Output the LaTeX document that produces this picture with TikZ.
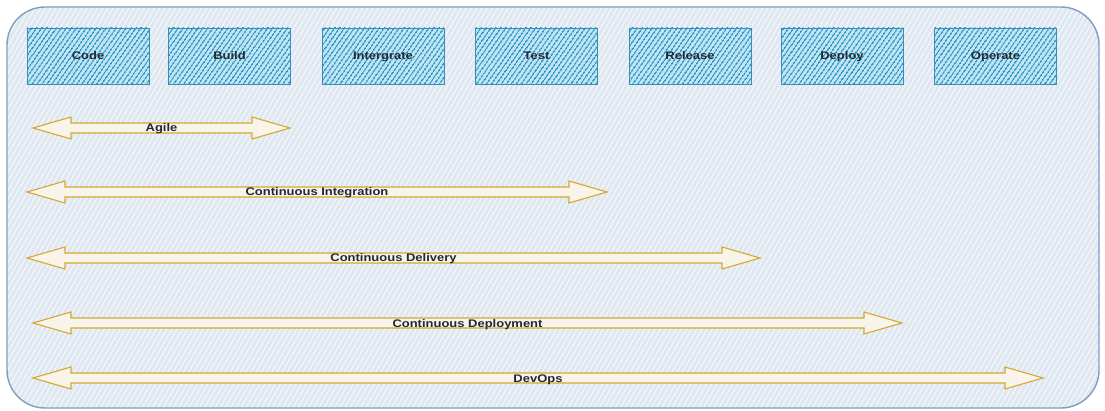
\documentclass[tikz,border=0pt]{standalone}
\usepackage{fontspec}
\setmainfont{Liberation Sans}
\usepackage{graphicx}
\usetikzlibrary{patterns.meta}

\definecolor{frame}{HTML}{7F9DC2}
\definecolor{panel}{HTML}{DFE7F0}
\definecolor{panelline}{HTML}{F7F9FC}
\definecolor{stagefill}{HTML}{BDE5F4}
\definecolor{stageline}{HTML}{2F93C4}
\definecolor{stageedge}{HTML}{3A8CBB}
\definecolor{gold}{HTML}{D6A832}
\definecolor{cream}{HTML}{F8F4EA}
\definecolor{ink}{HTML}{1F2A33}

% wide label text
\newcommand\widetext[1]{\scalebox{1.18}[1]{#1}}

% block double arrow: name, left tip x, right tip x, y, label
\newcommand\spanarrow[5]{%
  \draw[spanline] (#2,#4) -- (#2+38,#4-11) -- (#2+38,#4-5) -- (#3-38,#4-5)
    -- (#3-38,#4-11) -- (#3,#4) -- (#3-38,#4+11) -- (#3-38,#4+5)
    -- (#2+38,#4+5) -- (#2+38,#4+11) -- cycle;
  \node[spanlabel] (#1) at ({(#2+#3)/2},#4) {\widetext{#5}};
}

\tikzset{
  labeltext/.style={font=\fontsize{11}{13}\selectfont\bfseries, text=ink,
    text height=8pt, text depth=0pt, inner sep=0pt},
  stage/.style={labeltext, draw=stageedge, line width=0.9pt,
    preaction={fill=stagefill},
    pattern={Lines[angle=55,distance=4pt,line width=1.7pt]},
    pattern color=stageline,
    minimum width=122pt, minimum height=56pt},
  spanline/.style={draw=gold, line width=1.1pt, fill=cream, line join=miter},
  spanlabel/.style={labeltext},
}

\begin{document}
\begin{tikzpicture}[x=1pt, y=-1pt]
  \useasboundingbox (0,0) rectangle (1105,411);
  \fill[white] (0,0) rectangle (1105,411);

  % hatched panel
  \path[rounded corners=38pt, preaction={fill=panel},
        pattern={Lines[angle=60,distance=4.5pt,line width=1pt]},
        pattern color=panelline] (7,7) rectangle (1099,408);
  \draw[frame, line width=1.4pt, rounded corners=38pt] (7,7) rectangle (1099,408);

  % pipeline stages
  \node[stage] (code)    at (88,56)    {\widetext{Code}};
  \node[stage] (build)   at (229.5,56) {\widetext{Build}};
  \node[stage] (integr)  at (383,56)   {\widetext{Intergrate}};
  \node[stage] (test)    at (536.5,56) {\widetext{Test}};
  \node[stage] (release) at (690,56)   {\widetext{Release}};
  \node[stage] (deploy)  at (842,56)   {\widetext{Deploy}};
  \node[stage] (operate) at (995.5,56) {\widetext{Operate}};

  % practice spans
  \spanarrow{agile}{33}{290}{128}{Agile}
  \spanarrow{ci}{27}{607}{192}{Continuous Integration}
  \spanarrow{cd}{27}{760}{258}{Continuous Delivery}
  \spanarrow{cdep}{33}{902}{323}{Continuous Deployment}
  \spanarrow{devops}{33}{1043}{378}{DevOps}
\end{tikzpicture}
\end{document}
